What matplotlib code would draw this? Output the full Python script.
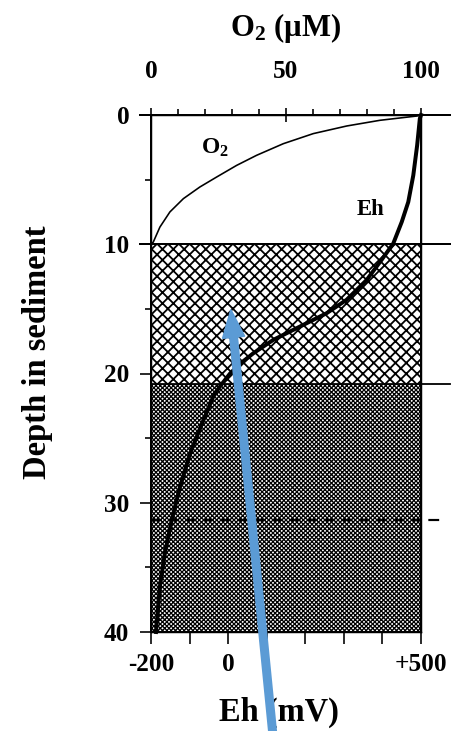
import numpy as np
import matplotlib
matplotlib.use("Agg")
import matplotlib.pyplot as plt

# depth profile
o2_depth = [0, 0.08, 0.41, 0.85, 1.44, 2.22, 3.12, 3.9, 4.8, 5.57, 6.47, 7.5, 8.67, 9.83, 10.0]
o2_conc = [100, 98.4, 84.8, 72.5, 60.1, 49, 39.1, 31.7, 24.3, 18.1, 12, 7, 3.3, 0.85, 0]

eh_depth = [0, 0.28, 2.35, 4.67, 6.73, 8.28, 9.95, 11.2, 12.77, 14.3, 15.34, 16.37,
            17.4, 18.44, 19.2, 20.0, 20.8, 21.6, 23.6, 26.2, 28.8, 31.3, 33.9, 36.5, 39.3, 40.0]
eh_mv = [500, 497, 490, 480, 467, 450, 428, 398, 359, 307, 255, 186,
         117, 65, 33, 5, -16, -36, -64, -99, -125, -146, -164, -177, -185, -187]

zone_edges = [10, 20.8, 40]   # oxic/suboxic/anoxic boundaries
dash_depth = 31.3

eh_ticks = [-200, -100, 0, 100, 200, 300, 400, 500]
eh_labels = ["-200", "", "0", "", "", "", "", "+500"]
o2_major = [0, 50, 100]
depth_major = [0, 10, 20, 30, 40]
depth_minor = [5, 15, 25, 35]

arrow_tip = (29.6, 15.1)   # O2 units, depth

plt.rcParams['font.family'] = ['Liberation Serif', 'DejaVu Serif']
plt.rcParams['font.weight'] = 'bold'
plt.rcParams['mathtext.fontset'] = 'custom'
plt.rcParams['mathtext.rm'] = 'Liberation Serif:bold'
plt.rcParams['mathtext.it'] = 'Liberation Serif:bold'
plt.rcParams['mathtext.bf'] = 'Liberation Serif:bold'

DPI = 130
fig = plt.figure(figsize=(455 / DPI, 731 / DPI), dpi=DPI)
ax = fig.add_axes([151 / 455, 1 - 632 / 731, 270 / 455, 517 / 731])

ax.set_xlim(-200, 500)
ax.set_ylim(40, 0)

# sediment zones
with plt.rc_context({'hatch.linewidth': 1.0}):
    top_zone = ax.axhspan(zone_edges[0], zone_edges[1], facecolor='white',
                          edgecolor='black', hatch='xxxx', lw=0, zorder=1)
with plt.rc_context({'hatch.linewidth': 0.7}):
    low_zone = ax.axhspan(zone_edges[1], zone_edges[2], facecolor='white',
                          edgecolor='black', hatch='x' * 10, lw=0, zorder=1)
if hasattr(top_zone, 'set_hatch_linewidth'):
    top_zone.set_hatch_linewidth(1.0)
    low_zone.set_hatch_linewidth(0.7)

# boundary lines, running past the frame
for d in [0, zone_edges[0]]:
    ax.axhline(d, xmin=-0.04, xmax=1.107, color='black', lw=1.1, clip_on=False, zorder=3)
ax.axhline(zone_edges[1], xmin=0, xmax=1.107, color='black', lw=1.0, clip_on=False, zorder=3)
ax.axhline(dash_depth, xmin=0, xmax=1.09, color='black', lw=1.2, ls=(0, (5, 3)),
           clip_on=False, zorder=3)

ax.plot(eh_mv, eh_depth, color='black', lw=2.2, zorder=4, clip_on=False)
ax.text(370, 7.35, "Eh", fontsize=12.5, ha='center', va='center', zorder=5)

ax.set_xticks(eh_ticks)
ax.set_xticklabels(eh_labels)
ax.set_yticks(depth_major)
ax.set_yticks(depth_minor, minor=True)
ax.tick_params(axis='x', direction='out', length=6.5, width=0.9, labelsize=14, pad=5)
ax.tick_params(axis='y', which='major', direction='out', length=6, width=0.9,
               labelsize=14, pad=6)
ax.tick_params(axis='y', which='minor', direction='out', length=3.3, width=0.9)
for s in ax.spines.values():
    s.set_linewidth(1.1)

# top axis for oxygen
ax2 = ax.twiny()
ax2.set_xlim(0, 100)
ax2.plot(o2_conc, o2_depth, color='black', lw=0.9, zorder=4)
ax2.text(23.7, 2.55, "O$_2$", fontsize=13, ha='center', va='center')
ax2.set_xticks(o2_major)
ax2.set_xticks(np.arange(0, 101, 10), minor=True)
ax2.tick_params(axis='x', which='major', direction='inout', length=8, width=0.9,
                labelsize=14, pad=14)
ax2.tick_params(axis='x', which='minor', direction='out', length=3.5, width=0.9)

fig.text(285 / 455, 1 - 28 / 731, "O$_2$ (μM)", fontsize=17, ha='center', va='center')
fig.text(38 / 455, 1 - 352 / 731, "Depth in sediment", fontsize=18, rotation=90,
         ha='center', va='center')
ax.text(279 / 455, 1 - 712 / 731, "Eh (mV)", fontsize=18, ha='center', va='center',
        transform=fig.transFigure)

ax2.annotate("", xy=arrow_tip, xycoords='data', xytext=(273, -5),
             textcoords='figure pixels',
             arrowprops=dict(arrowstyle="simple,head_length=0.75,head_width=0.6,tail_width=0.2",
                             color='#5b9bd5', shrinkA=0, shrinkB=0, mutation_scale=20),
             annotation_clip=False, zorder=10)

fig.savefig("out.png", dpi=DPI)
